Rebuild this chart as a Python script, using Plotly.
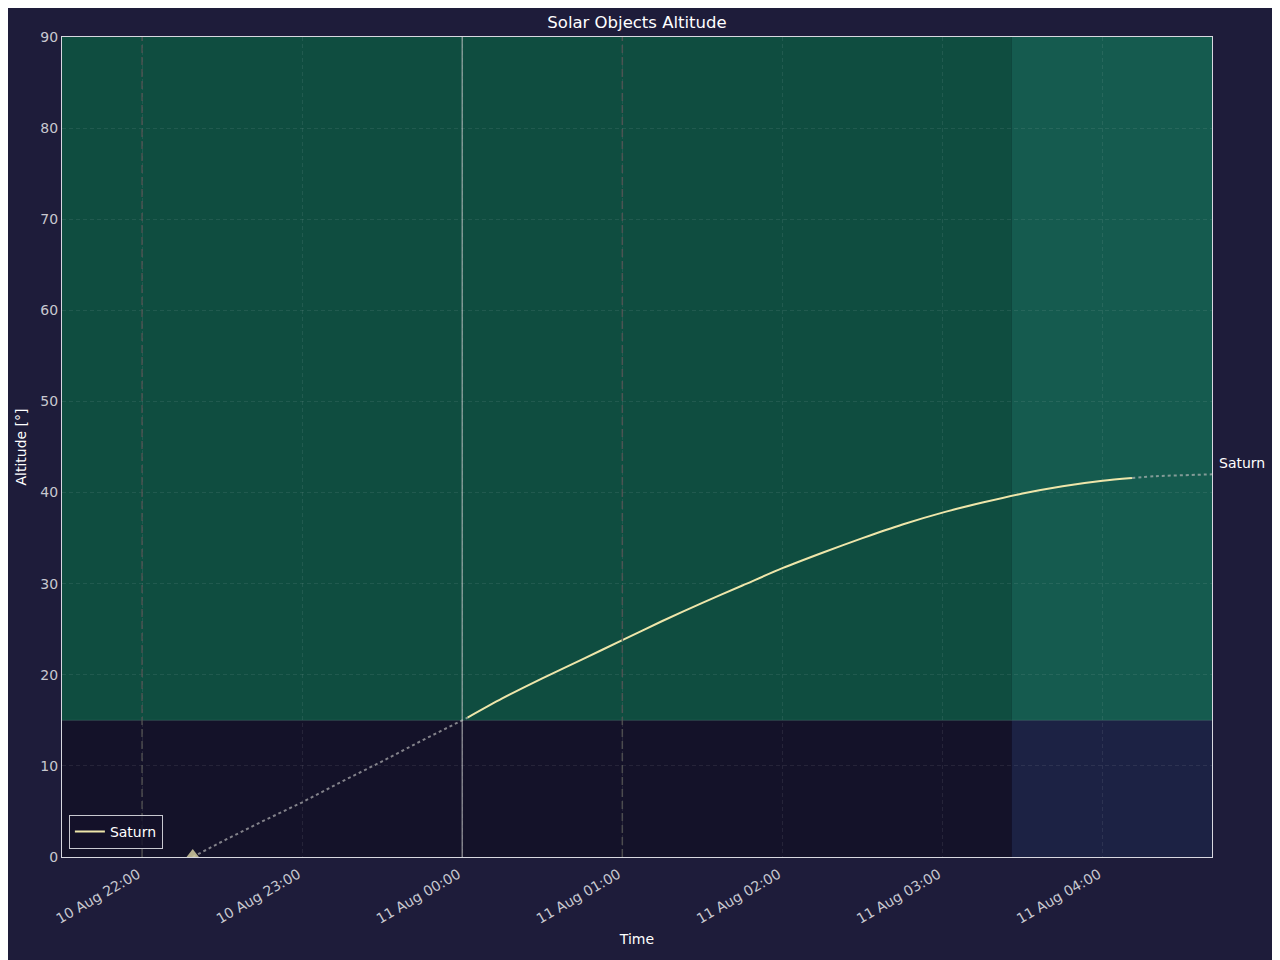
import plotly.graph_objects as go

# ---- data ----
x_start = "2024-08-10 21:30"
x_end = "2024-08-11 04:41"
twilight_start = "2024-08-11 03:26"
alt_limit = 15

tick_times = ["2024-08-10 22:00", "2024-08-10 23:00", "2024-08-11 00:00",
              "2024-08-11 01:00", "2024-08-11 02:00", "2024-08-11 03:00",
              "2024-08-11 04:00"]
dashed_times = ["2024-08-10 22:00", "2024-08-11 01:00"]
midnight = "2024-08-11 00:00"

rise_time = "2024-08-10 22:19"

rise_t = ["2024-08-10 22:19", "2024-08-10 22:30", "2024-08-10 22:45",
          "2024-08-10 23:00", "2024-08-10 23:15", "2024-08-10 23:30",
          "2024-08-10 23:45", "2024-08-11 00:00", "2024-08-11 00:02"]
rise_alt = [0.0, 1.7, 3.9, 6.0, 8.3, 10.5, 12.8, 15.0, 15.3]

obs_t = ["2024-08-11 00:02", "2024-08-11 00:15", "2024-08-11 00:30",
         "2024-08-11 00:45", "2024-08-11 01:00", "2024-08-11 01:15",
         "2024-08-11 01:30", "2024-08-11 01:45", "2024-08-11 02:00",
         "2024-08-11 02:15", "2024-08-11 02:30", "2024-08-11 02:45",
         "2024-08-11 03:00", "2024-08-11 03:15", "2024-08-11 03:30",
         "2024-08-11 03:45", "2024-08-11 04:00", "2024-08-11 04:11"]
obs_alt = [15.3, 17.4, 19.6, 21.7, 23.8, 25.9, 27.9, 29.8, 31.7,
           33.4, 35.0, 36.5, 37.8, 38.9, 39.9, 40.7, 41.3, 41.6]

set_t = ["2024-08-11 04:11", "2024-08-11 04:20", "2024-08-11 04:30", "2024-08-11 04:41"]
set_alt = [41.6, 41.8, 41.9, 42.0]

label_alt = 43.2

# ---- styling ----
bg = "#1e1c3a"
font = "DejaVu Sans"
saturn_color = "#eee6aa"
dotted_color = "rgba(190,190,190,0.65)"

fig = go.Figure()

# background regions
fig.add_shape(type="rect", xref="x", yref="y", x0=x_start, x1=twilight_start,
              y0=alt_limit, y1=90, fillcolor="#0f4d40", line_width=0, layer="below")
fig.add_shape(type="rect", xref="x", yref="y", x0=twilight_start, x1=x_end,
              y0=alt_limit, y1=90, fillcolor="#155b4f", line_width=0, layer="below")
fig.add_shape(type="rect", xref="x", yref="y", x0=x_start, x1=twilight_start,
              y0=0, y1=alt_limit, fillcolor="#141229", line_width=0, layer="below")
fig.add_shape(type="rect", xref="x", yref="y", x0=twilight_start, x1=x_end,
              y0=0, y1=alt_limit, fillcolor="#1c2244", line_width=0, layer="below")
fig.add_shape(type="line", xref="x", yref="y", x0=x_start, x1=x_end,
              y0=alt_limit, y1=alt_limit, line=dict(color="rgba(120,200,170,0.25)", width=1))

for t in dashed_times:
    fig.add_shape(type="line", xref="x", yref="paper", x0=t, x1=t, y0=0, y1=1,
                  line=dict(color="rgba(85,85,85,0.85)", width=1.5, dash="8px,4px"))
fig.add_shape(type="line", xref="x", yref="paper", x0=midnight, x1=midnight, y0=0, y1=1,
              line=dict(color="rgba(200,200,200,0.6)", width=1.5))

fig.add_trace(go.Scatter(x=rise_t, y=rise_alt, mode="lines",
                         line=dict(color=dotted_color, width=2, dash="dot"),
                         showlegend=False, hoverinfo="skip"))
fig.add_trace(go.Scatter(x=set_t, y=set_alt, mode="lines", line_shape="spline",
                         line=dict(color=dotted_color, width=2, dash="dot"),
                         showlegend=False, hoverinfo="skip"))
fig.add_trace(go.Scatter(x=obs_t, y=obs_alt, mode="lines", name="Saturn",
                         line_shape="spline", line_smoothing=0.8,
                         line=dict(color=saturn_color, width=2)))
fig.add_trace(go.Scatter(x=[rise_time], y=[0], mode="markers",
                         marker=dict(symbol="triangle-up", size=16, color="rgba(210,205,160,0.85)"),
                         showlegend=False, hoverinfo="skip"))

fig.add_annotation(xref="paper", yref="y", x=1, y=label_alt, text="Saturn",
                   showarrow=False, xanchor="left", xshift=5,
                   font=dict(color="#ffffff", size=14, family=font))

grid_color = "rgba(255,255,255,0.08)"

fig.update_layout(
    width=1280, height=960,
    paper_bgcolor=bg, plot_bgcolor="#141229",
    margin=dict(l=54, r=76, t=29, b=111),
    font=dict(family=font, color="#ffffff", size=13),
    title=dict(text="Solar Objects Altitude", xref="paper", x=0.5, xanchor="center",
               y=1 - 14 / 960, yanchor="middle", font=dict(size=16.5, color="#ffffff")),
    legend=dict(x=0.006, y=0.01, xanchor="left", yanchor="bottom",
                bgcolor="rgba(20,18,41,0.8)", bordercolor="#c8c8d0", borderwidth=1,
                font=dict(size=14, color="#ffffff")),
    xaxis=dict(type="date", range=[x_start, x_end], tickvals=tick_times,
               tickformat="%d %b %H:%M", tickangle=-30, ticklabelstandoff=3,
               ticklabelshift=-4,
               tickfont=dict(color="#c8c8d0", size=14),
               title=dict(text="Time", font=dict(size=14, color="#ffffff"), standoff=8),
               showgrid=True, gridcolor=grid_color, griddash="4px,3px",
               showline=True, linecolor="#d8d8e0", linewidth=1, mirror=True,
               zeroline=False, ticks=""),
    yaxis=dict(range=[0, 90], tickvals=list(range(0, 91, 10)),
               tickfont=dict(color="#c8c8d0", size=14),
               title=dict(text="Altitude [°]", font=dict(size=14, color="#ffffff"), standoff=10),
               showgrid=True, gridcolor=grid_color, griddash="4px,3px",
               showline=True, linecolor="#d8d8e0", linewidth=1, mirror=True,
               zeroline=False, ticks=""),
)

fig.write_html("out.html")
